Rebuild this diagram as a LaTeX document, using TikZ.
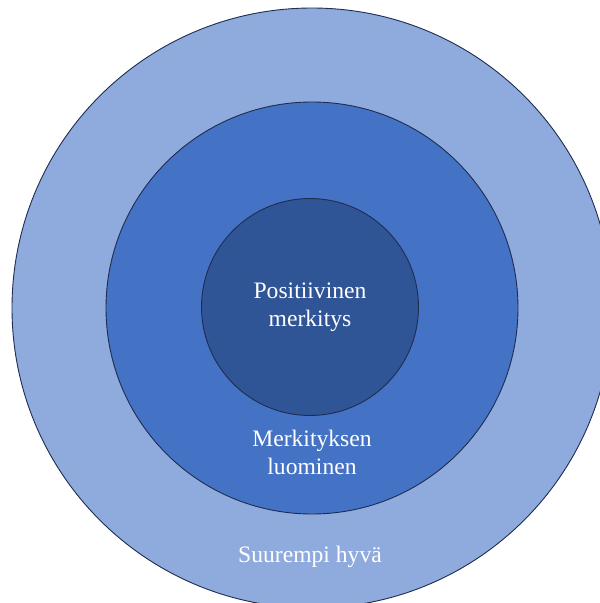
\documentclass[tikz,border=0pt]{standalone}
\usepackage{fontspec}
\setmainfont{Liberation Serif}
\usetikzlibrary{positioning}
\definecolor{ringouter}{RGB}{143,170,220}
\definecolor{ringmid}{RGB}{68,114,196}
\definecolor{ringinner}{RGB}{47,85,151}
\definecolor{ringline}{RGB}{31,45,80}
\tikzset{
  ring/.style={circle, draw=ringline, line width=0.9pt, inner sep=0pt},
  ringtext/.style={text=white, font=\fontsize{23.6}{28}\selectfont, align=center}
}

\begin{document}
\begin{tikzpicture}[x=1pt, y=-1pt]
    \useasboundingbox (0,0) rectangle (600,603);
    \clip (0,0) rectangle (600,603);
    % the three rings, outside in
    \node[ring, fill=ringouter, minimum size=600pt] (outer) at (312,308) {};
    \node[ring, fill=ringmid, minimum size=412pt] (middle) at (312,308) {};
    \node[ring, fill=ringinner, minimum size=217pt, ringtext] (inner) at (310,307)
      {Positiivinen\\merkitys};
    % labels of the outer rings
    \node[ringtext] (midlabel) at (312,452) {Merkityksen\\luominen};
    \node[ringtext] (outlabel) at (310,557) {Suurempi hyvä};
  \end{tikzpicture}
\end{document}
